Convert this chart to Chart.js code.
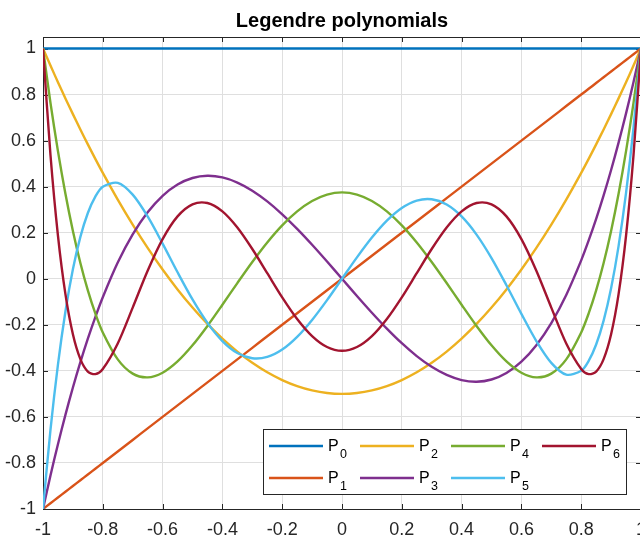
<!DOCTYPE html>
<html>
<head>
<meta charset="utf-8">
<title>Legendre polynomials</title>
<script src="https://cdn.jsdelivr.net/npm/chart.js@4.4.0/dist/chart.umd.min.js"></script>
<style>
  html, body { margin: 0; padding: 0; background: #fff; overflow: hidden; }
  #wrap { width: 648px; height: 537px; }
</style>
</head>
<body>
<div id="wrap"><canvas id="legendreChart" width="648" height="537"></canvas></div>
<script>
// Näytepisteet x-akselilla (tiheämmin reunoilla)
const xValues = [-1, -0.975, -0.95, -0.925, -0.9, -0.875, -0.85, -0.825, -0.8, -0.75, -0.7, -0.65, -0.6, -0.55, -0.5, -0.45, -0.4, -0.35, -0.3, -0.25, -0.2, -0.15, -0.1, -0.05, 0, 0.05, 0.1, 0.15, 0.2, 0.25, 0.3, 0.35, 0.4, 0.45, 0.5, 0.55, 0.6, 0.65, 0.7, 0.75, 0.8, 0.825, 0.85, 0.875, 0.9, 0.925, 0.95, 0.975, 1];

// Polynomien arvot näytepisteissä
const p0 = [1, 1, 1, 1, 1, 1, 1, 1, 1, 1, 1, 1, 1, 1, 1, 1, 1, 1, 1, 1, 1, 1, 1, 1, 1, 1, 1, 1, 1, 1, 1, 1, 1, 1, 1, 1, 1, 1, 1, 1, 1, 1, 1, 1, 1, 1, 1, 1, 1];
const p1 = [-1, -0.975, -0.95, -0.925, -0.9, -0.875, -0.85, -0.825, -0.8, -0.75, -0.7, -0.65, -0.6, -0.55, -0.5, -0.45, -0.4, -0.35, -0.3, -0.25, -0.2, -0.15, -0.1, -0.05, 0, 0.05, 0.1, 0.15, 0.2, 0.25, 0.3, 0.35, 0.4, 0.45, 0.5, 0.55, 0.6, 0.65, 0.7, 0.75, 0.8, 0.825, 0.85, 0.875, 0.9, 0.925, 0.95, 0.975, 1];
const p2 = [1, 0.9259, 0.8538, 0.7834, 0.715, 0.6484, 0.5838, 0.5209, 0.46, 0.3438, 0.235, 0.1338, 0.04, -0.0463, -0.125, -0.1963, -0.26, -0.3163, -0.365, -0.4063, -0.44, -0.4663, -0.485, -0.4963, -0.5, -0.4963, -0.485, -0.4663, -0.44, -0.4063, -0.365, -0.3163, -0.26, -0.1963, -0.125, -0.0463, 0.04, 0.1338, 0.235, 0.3438, 0.46, 0.5209, 0.5838, 0.6484, 0.715, 0.7834, 0.8538, 0.9259, 1];
const p3 = [-1, -0.8546, -0.7184, -0.5911, -0.4725, -0.3623, -0.2603, -0.1663, -0.08, 0.0703, 0.1925, 0.2884, 0.36, 0.4091, 0.4375, 0.4472, 0.44, 0.4178, 0.3825, 0.3359, 0.28, 0.2166, 0.1475, 0.0747, 0, -0.0747, -0.1475, -0.2166, -0.28, -0.3359, -0.3825, -0.4178, -0.44, -0.4472, -0.4375, -0.4091, -0.36, -0.2884, -0.1925, -0.0703, 0.08, 0.1663, 0.2603, 0.3623, 0.4725, 0.5911, 0.7184, 0.8546, 1];
const p4 = [1, 0.7638, 0.5541, 0.3693, 0.2079, 0.0685, -0.0506, -0.1506, -0.233, -0.3501, -0.4121, -0.4284, -0.408, -0.359, -0.2891, -0.205, -0.113, -0.0187, 0.0729, 0.1577, 0.232, 0.2928, 0.3379, 0.3657, 0.375, 0.3657, 0.3379, 0.2928, 0.232, 0.1577, 0.0729, -0.0187, -0.113, -0.205, -0.2891, -0.359, -0.408, -0.4284, -0.4121, -0.3501, -0.233, -0.1506, -0.0506, 0.0685, 0.2079, 0.3693, 0.5541, 0.7638, 1];
const p5 = [-1, -0.6567, -0.3727, -0.142, 0.0411, 0.182, 0.2857, 0.3567, 0.3995, 0.4164, 0.3652, 0.2705, 0.1526, 0.0282, -0.0898, -0.1917, -0.2706, -0.3225, -0.3454, -0.3397, -0.3075, -0.2523, -0.1788, -0.0927, 0, 0.0927, 0.1788, 0.2523, 0.3075, 0.3397, 0.3454, 0.3225, 0.2706, 0.1917, 0.0898, -0.0282, -0.1526, -0.2705, -0.3652, -0.4164, -0.3995, -0.3567, -0.2857, -0.182, -0.0411, 0.142, 0.3727, 0.6567, 1];
const p6 = [1, 0.5374, 0.1875, -0.0669, -0.2412, -0.3491, -0.403, -0.414, -0.3918, -0.2808, -0.1253, 0.0347, 0.1721, 0.2708, 0.3232, 0.329, 0.2926, 0.2225, 0.1292, 0.0243, -0.0806, -0.1746, -0.2488, -0.2962, -0.3125, -0.2962, -0.2488, -0.1746, -0.0806, 0.0243, 0.1292, 0.2225, 0.2926, 0.329, 0.3232, 0.2708, 0.1721, 0.0347, -0.1253, -0.2808, -0.3918, -0.414, -0.403, -0.3491, -0.2412, -0.0669, 0.1875, 0.5374, 1];

// Akselien jakoviivat
const xTicks = [-1, -0.8, -0.6, -0.4, -0.2, 0, 0.2, 0.4, 0.6, 0.8, 1];
const yTicks = [-1, -0.8, -0.6, -0.4, -0.2, 0, 0.2, 0.4, 0.6, 0.8, 1];

const seriesNames = ['0', '1', '2', '3', '4', '5', '6'];
const seriesColors = ['#0072BD', '#D95319', '#EDB120', '#7E2F8E', '#77AC30', '#4DBEEE', '#A2142F'];
const seriesValues = [p0, p1, p2, p3, p4, p5, p6];

// Selitteen järjestys: kaksi riviä, neljä saraketta
const legendOrder = [0, 2, 4, 6, 1, 3, 5];

const FONT = '"Liberation Sans", Arial, Helvetica, sans-serif';
const AXIS_COLOR = '#262626';
const LINE_WIDTH = 2.4;

const fmt = v => Number(v.toFixed(1)).toString();

// Kehys, sisäänpäin osoittavat jakoviivat, otsikko ja selite
const framePlugin = {
  id: 'frame',
  beforeDatasetsDraw(chart) {
    const { ctx, chartArea: a, scales } = chart;
    ctx.save();
    ctx.strokeStyle = AXIS_COLOR;
    ctx.lineWidth = 1;
    ctx.beginPath();
    ctx.moveTo(a.left, a.top + 0.5);
    ctx.lineTo(a.right, a.top + 0.5);
    ctx.moveTo(a.right - 0.5, a.top);
    ctx.lineTo(a.right - 0.5, a.bottom);
    const len = 5;
    xTicks.forEach(v => {
      const px = Math.round(scales.x.getPixelForValue(v)) + 0.5;
      ctx.moveTo(px, a.bottom);
      ctx.lineTo(px, a.bottom - len);
      ctx.moveTo(px, a.top);
      ctx.lineTo(px, a.top + len);
    });
    yTicks.forEach(v => {
      const py = Math.round(scales.y.getPixelForValue(v)) + 0.5;
      ctx.moveTo(a.left, py);
      ctx.lineTo(a.left + len, py);
      ctx.moveTo(a.right, py);
      ctx.lineTo(a.right - len, py);
    });
    ctx.stroke();
    ctx.restore();
  },
  afterDraw(chart) {
    const { ctx, chartArea: a } = chart;
    ctx.save();

    // Otsikko
    ctx.fillStyle = '#000';
    ctx.font = `bold 20px ${FONT}`;
    ctx.textAlign = 'center';
    ctx.textBaseline = 'alphabetic';
    ctx.fillText('Legendre polynomials', (a.left + a.right) / 2, 27);

    // Selitelaatikko
    const boxLeft = a.right - 378;
    const boxTop = a.bottom - 80;
    const boxW = 363;
    const boxH = 65;
    ctx.fillStyle = '#fff';
    ctx.fillRect(boxLeft, boxTop, boxW, boxH);
    ctx.strokeStyle = AXIS_COLOR;
    ctx.lineWidth = 1;
    ctx.strokeRect(boxLeft + 0.5, boxTop + 0.5, boxW, boxH);

    legendOrder.forEach((idx, k) => {
      const col = k % 4;
      const row = Math.floor(k / 4);
      const x0 = boxLeft + 6 + col * 91;
      const y0 = boxTop + 17 + row * 32;
      ctx.strokeStyle = seriesColors[idx];
      ctx.lineWidth = LINE_WIDTH;
      ctx.beginPath();
      ctx.moveTo(x0, y0);
      ctx.lineTo(x0 + 54, y0);
      ctx.stroke();

      ctx.fillStyle = '#000';
      ctx.textAlign = 'left';
      ctx.textBaseline = 'alphabetic';
      ctx.font = `16px ${FONT}`;
      ctx.fillText('P', x0 + 59, y0 + 5);
      ctx.font = `12.5px ${FONT}`;
      ctx.fillText(seriesNames[idx], x0 + 71, y0 + 12);
    });
    ctx.restore();
  }
};

const datasets = seriesValues.map((vals, i) => ({
  label: `P${seriesNames[i]}`,
  data: xValues.map((x, j) => ({ x, y: vals[j] })),
  borderColor: seriesColors[i],
  backgroundColor: seriesColors[i],
  borderWidth: LINE_WIDTH,
  pointRadius: 0,
  tension: 0.3,
  fill: false,
  order: 6 - i
}));

const tickFont = { family: FONT, size: 18 };

new Chart(document.getElementById('legendreChart').getContext('2d'), {
  type: 'line',
  data: { datasets },
  options: {
    responsive: false,
    animation: false,
    layout: { padding: { top: 37, right: 7, left: 0, bottom: 0 } },
    plugins: {
      legend: { display: false },
      title: { display: false },
      tooltip: { enabled: false }
    },
    scales: {
      x: {
        type: 'linear',
        min: -1,
        max: 1,
        afterBuildTicks: axis => { axis.ticks = xTicks.map(v => ({ value: v })); },
        afterFit: axis => {
          axis.height = 28;
          axis.paddingLeft = 0;
          axis.paddingRight = 0;
        },
        grid: { color: '#dfdfdf', drawTicks: false },
        border: { color: AXIS_COLOR, width: 1 },
        ticks: { color: AXIS_COLOR, font: tickFont, padding: 10, maxRotation: 0, autoSkip: false, callback: v => fmt(v) }
      },
      y: {
        type: 'linear',
        min: -1,
        max: 1.05,
        afterBuildTicks: axis => { axis.ticks = yTicks.map(v => ({ value: v })); },
        afterFit: axis => {
          axis.width = 43;
          axis.paddingTop = 0;
          axis.paddingBottom = 0;
        },
        grid: { color: '#dfdfdf', drawTicks: false },
        border: { color: AXIS_COLOR, width: 1 },
        ticks: { color: AXIS_COLOR, font: tickFont, padding: 7, autoSkip: false, callback: v => fmt(v) }
      }
    }
  },
  plugins: [framePlugin]
});
</script>
</body>
</html>
